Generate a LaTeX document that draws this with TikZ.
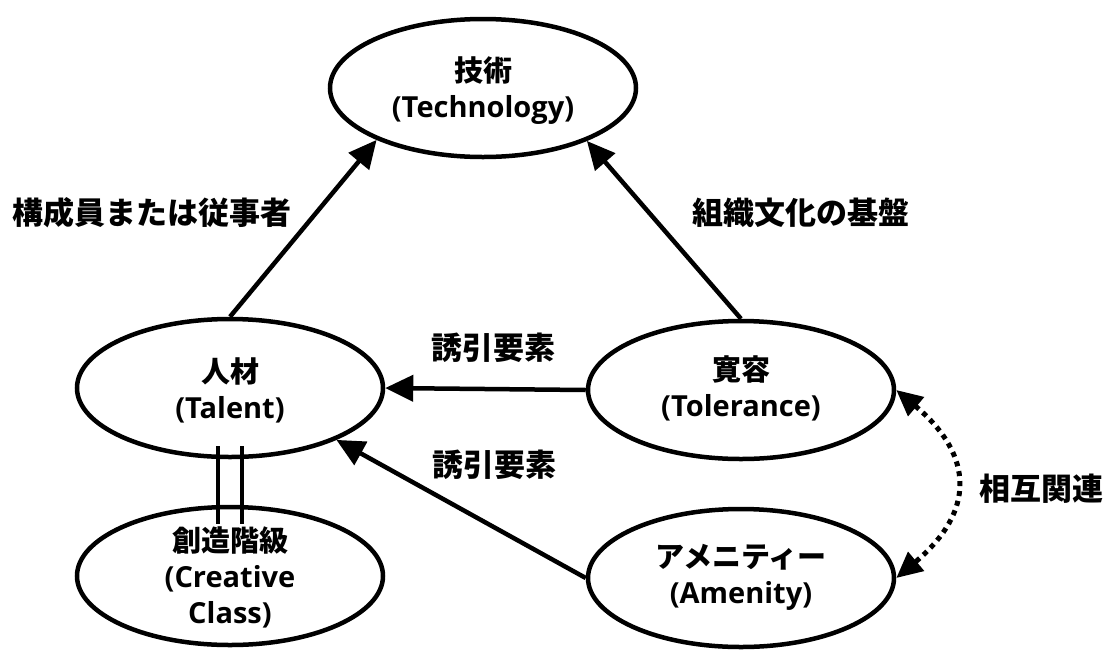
\documentclass[tikz,border=0pt]{standalone}
\usepackage{fontspec}
\setmainfont{Open Sans}
\newfontfamily\cjk{Noto Sans CJK JP}
\usetikzlibrary{shapes.geometric,arrows.meta}
\tikzset{
  oval/.style={ellipse, draw, line width=4.5pt, minimum width=306pt, minimum height=138pt, inner sep=0pt, fill=white},
  txt/.style={align=center, inner sep=0pt, font=\fontsize{29}{36}\selectfont\bfseries},
  lbl/.style={inner sep=0pt, font=\cjk\fontsize{31}{36}\selectfont\bfseries},
  conn/.style={line width=4.5pt, -{Triangle[length=28pt,width=26pt]}},
  rel/.style={line width=5pt, dash pattern=on 5pt off 5pt, {Triangle[length=26pt,width=24pt]}-{Triangle[length=26pt,width=24pt]}},
  pair/.style={line width=4pt}
}
\begin{document}
\begin{tikzpicture}[x=1pt,y=-1pt]
\useasboundingbox (0,0) rectangle (1109,649);
\fill[white] (0,0) rectangle (1109,649);
\node[oval] (tech) at (483,88) {};
\node[oval] (tal) at (230,388) {};
\node[oval] (cc) at (230,576) {};
\node[oval] (tol) at (741,390) {};
\node[oval] (amen) at (741,578) {};

\node[txt] (techt) at (483,91) {{\cjk 技術}\\(Technology)};
\node[txt] (talt) at (230,390) {{\cjk 人材}\\(Talent)};
\node[txt] (cct) at (230,577) {{\cjk 創造階級}\\(Creative\\Class)};
\node[txt] (tolt) at (741,388) {{\cjk 寛容}\\(Tolerance)};
\node[txt] (ament) at (741,577) {{\cjk アメニティー}\\(Amenity)};

\draw[conn] (tal.north) -- (tech.206);
\draw[conn] (tol.north) -- (tech.333);
\draw[conn] (tol.west) -- (tal.east);
\draw[conn] (amen.west) -- (tal.-26);
\draw[rel] (tol.east) to[bend left=50, looseness=1.4] (amen.east);
\draw[pair] ([xshift=-12pt,yshift=13pt]tal.south) -- ([xshift=-12pt,yshift=-19pt]cc.north);
\draw[pair] ([xshift=12pt,yshift=13pt]tal.south) -- ([xshift=12pt,yshift=-19pt]cc.north);

\node[lbl] (l1) at (152,213) {構成員または従事者};
\node[lbl] (l2) at (801,213) {組織文化の基盤};
\node[lbl] (l3) at (493,348) {誘引要素};
\node[lbl] (l4) at (494,465) {誘引要素};
\node[lbl] (l5) at (1041,489) {相互関連};
\end{tikzpicture}
\end{document}
